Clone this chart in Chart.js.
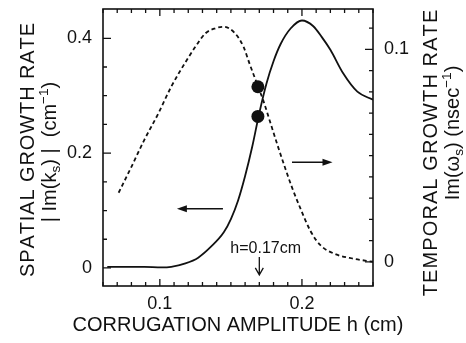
<!DOCTYPE html>
<html>
<head>
<meta charset="utf-8">
<script src="https://cdn.jsdelivr.net/npm/chart.js@4.4.1/dist/chart.umd.min.js"></script>
<style>
    html, body { margin: 0; padding: 0; background: #fff; }
</style>
</head>
<body>
<canvas id="growthChart" width="466" height="343"></canvas>
<script>
// Spatial growth rate |Im(ks)| (cm^-1), left axis, solid curve
const solidH = [0.063, 0.075, 0.089, 0.101, 0.108, 0.118, 0.127, 0.136, 0.145, 0.150, 0.155, 0.160,
    0.165, 0.170, 0.175, 0.180, 0.185, 0.192, 0.200, 0.208, 0.214, 0.220, 0.229, 0.239, 0.250];
const solidK = [0.002, 0.002, 0.002, 0.001, 0.002, 0.008, 0.018, 0.037, 0.062, 0.085, 0.117, 0.160,
    0.211, 0.270, 0.321, 0.360, 0.390, 0.417, 0.431, 0.421, 0.402, 0.380, 0.339, 0.307, 0.293];

// Temporal growth rate Im(ws) (nsec^-1), right axis, dashed curve
const dashH = [0.071, 0.080, 0.089, 0.099, 0.108, 0.119, 0.125, 0.132, 0.139, 0.145, 0.153, 0.159,
    0.163, 0.168, 0.173, 0.178, 0.183, 0.188, 0.193, 0.199, 0.206, 0.213, 0.224, 0.236, 0.250];
const dashW = [0.0325, 0.0447, 0.0573, 0.0699, 0.0824, 0.0950, 0.1012, 0.1075, 0.1099, 0.1106, 0.1075, 0.1010,
    0.0935, 0.0845, 0.0755, 0.0650, 0.0545, 0.0445, 0.0350, 0.0250, 0.0145, 0.0078, 0.0035, 0.0015, 0.0];

// diem danh dau tai h = 0.17 cm
const dotH = [0.169];
const dotK = [0.264];
const dotW = [0.0824];

// tick labels
const xTicks = [0.1, 0.2];
const yTicks = [0, 0.2, 0.4];
const y2Ticks = [0, 0.1];

// chu thich (don vi du lieu)
const markH = 0.17;
const arrowLeft = { from: 0.1444, to: 0.112, k: 0.103 };
const arrowRight = { from: 0.193, to: 0.2215, w: 0.0469 };

const ink = '#111';
const family = '"Liberation Sans", Arial, Helvetica, sans-serif';

function toPoints(xs, ys) {
    return xs.map((v, i) => ({ x: v, y: ys[i] }));
}

// ve chu co chi so tren/duoi, can giua tai cx; spacing = khoang cach them giua cac ky tu
function richText(ctx, parts, cx, baseY, size, spacing) {
    spacing = spacing || 0;
    const pieces = [];
    parts.forEach(p => {
        const fs = (p.sub || p.sup) ? size * 0.68 : size;
        const dy = p.sub ? size * 0.22 : (p.sup ? -size * 0.42 : 0);
        ctx.font = `${fs}px ${family}`;
        if (spacing) {
            for (const ch of p.t) pieces.push({ t: ch, fs, dy, w: ctx.measureText(ch).width + spacing });
        } else {
            pieces.push({ t: p.t, fs, dy, w: ctx.measureText(p.t).width });
        }
    });
    const total = pieces.reduce((s, p) => s + p.w, 0) - spacing;
    let x = cx - total / 2;
    pieces.forEach(p => {
        ctx.font = `${p.fs}px ${family}`;
        ctx.fillText(p.t, x, baseY + p.dy);
        x += p.w;
    });
}

function verticalText(ctx, parts, bx, cy, size, spacing) {
    ctx.save();
    ctx.translate(bx, cy);
    ctx.rotate(-Math.PI / 2);
    richText(ctx, parts, 0, 0, size, spacing);
    ctx.restore();
}

const decorPlugin = {
    id: 'decor',
    afterDraw(chart) {
        const { ctx, chartArea: a } = chart;
        const { x, y, y2 } = chart.scales;
        ctx.save();
        ctx.strokeStyle = ink;
        ctx.fillStyle = ink;

        // khung
        ctx.lineWidth = 1.6;
        ctx.strokeRect(a.left, a.top, a.right - a.left, a.bottom - a.top);

        // tick huong vao trong
        ctx.lineWidth = 1.3;
        ctx.beginPath();
        for (let i = 6; i <= 25; i++) {
            const px = x.getPixelForValue(i / 100);
            const len = i % 10 === 0 ? 7 : 4;
            ctx.moveTo(px, a.bottom); ctx.lineTo(px, a.bottom - len);
            ctx.moveTo(px, a.top); ctx.lineTo(px, a.top + len);
        }
        for (let i = 0; i <= 8; i++) {
            const py = y.getPixelForValue(i * 0.05);
            const len = i % 4 === 0 ? 8 : 4;
            ctx.moveTo(a.left, py); ctx.lineTo(a.left + len, py);
        }
        for (let i = 0; i <= 11; i++) {
            const py = y2.getPixelForValue(i / 100);
            const len = i % 10 === 0 ? 8 : 4;
            ctx.moveTo(a.right, py); ctx.lineTo(a.right - len, py);
        }
        ctx.stroke();

        // mui ten trai / phai
        ctx.lineWidth = 1.5;
        const ly = y.getPixelForValue(arrowLeft.k);
        const lx1 = x.getPixelForValue(arrowLeft.from), lx2 = x.getPixelForValue(arrowLeft.to);
        ctx.beginPath(); ctx.moveTo(lx1, ly); ctx.lineTo(lx2 + 6, ly); ctx.stroke();
        ctx.beginPath(); ctx.moveTo(lx2, ly); ctx.lineTo(lx2 + 10, ly - 3.5); ctx.lineTo(lx2 + 10, ly + 3.5); ctx.closePath(); ctx.fill();

        const ry = y2.getPixelForValue(arrowRight.w);
        const rx1 = x.getPixelForValue(arrowRight.from), rx2 = x.getPixelForValue(arrowRight.to);
        ctx.beginPath(); ctx.moveTo(rx1, ry); ctx.lineTo(rx2 - 6, ry); ctx.stroke();
        ctx.beginPath(); ctx.moveTo(rx2, ry); ctx.lineTo(rx2 - 10, ry - 3.5); ctx.lineTo(rx2 - 10, ry + 3.5); ctx.closePath(); ctx.fill();

        // h = 0.17 cm
        const hx = x.getPixelForValue(markH);
        const hy1 = y.getPixelForValue(0.019), hy2 = y.getPixelForValue(-0.012);
        ctx.lineWidth = 1.3;
        ctx.beginPath();
        ctx.moveTo(hx, hy1); ctx.lineTo(hx, hy2);
        ctx.moveTo(hx - 4, hy2 - 7); ctx.lineTo(hx, hy2); ctx.lineTo(hx + 4, hy2 - 7);
        ctx.stroke();
        ctx.font = `16px ${family}`;
        ctx.textAlign = 'center';
        ctx.textBaseline = 'alphabetic';
        ctx.fillText('h=0.17cm', x.getPixelForValue(0.1745), y.getPixelForValue(0.026));

        // tieu de truc
        ctx.textAlign = 'left';
        richText(ctx, [{ t: 'CORRUGATION AMPLITUDE h (cm)' }], (a.left + a.right) / 2, 331, 20);

        verticalText(ctx, [{ t: 'SPATIAL GROWTH RATE' }], 34, 150, 20, 0.9);
        verticalText(ctx, [{ t: '| Im(k' }, { t: 's', sub: true }, { t: ') |  (cm' }, { t: '\u22121', sup: true }, { t: ')' }], 56, 152, 20);

        verticalText(ctx, [{ t: 'TEMPORAL GROWTH RATE' }], 437, 153, 20, 1.1);
        verticalText(ctx, [{ t: 'Im(\u03c9' }, { t: 's', sub: true }, { t: ') (nsec' }, { t: '\u22121', sup: true }, { t: ')' }], 459, 133, 20);

        ctx.restore();
    }
};

const tickFont = { family: family, size: 18 };

new Chart(document.getElementById('growthChart'), {
    type: 'scatter',
    data: {
        datasets: [
            {
                data: toPoints(dotH, dotK),
                yAxisID: 'y',
                pointRadius: 6.5,
                pointBackgroundColor: ink,
                pointBorderWidth: 0
            },
            {
                data: toPoints(dotH, dotW),
                yAxisID: 'y2',
                pointRadius: 6.5,
                pointBackgroundColor: ink,
                pointBorderWidth: 0
            },
            {
                data: toPoints(solidH, solidK),
                yAxisID: 'y',
                showLine: true,
                borderColor: ink,
                borderWidth: 1.8,
                pointRadius: 0,
                cubicInterpolationMode: 'monotone'
            },
            {
                data: toPoints(dashH, dashW),
                yAxisID: 'y2',
                showLine: true,
                borderColor: ink,
                borderWidth: 1.8,
                borderDash: [4, 3],
                pointRadius: 0,
                cubicInterpolationMode: 'monotone'
            }
        ]
    },
    options: {
        responsive: false,
        animation: false,
        events: [],
        layout: { padding: { top: 9, left: 0, right: 0, bottom: 0 } },
        plugins: { legend: { display: false }, tooltip: { enabled: false } },
        scales: {
            x: {
                type: 'linear',
                min: 0.06,
                max: 0.25,
                grid: { display: false, drawTicks: false },
                border: { display: false },
                afterBuildTicks: s => { s.ticks = xTicks.map(v => ({ value: v })); },
                afterFit: s => { s.height = 57; s.paddingLeft = 0; s.paddingRight = 0; },
                ticks: { padding: 7, color: ink, font: tickFont, maxRotation: 0, callback: v => String(v) }
            },
            y: {
                type: 'linear',
                position: 'left',
                min: -0.0314,
                max: 0.451,
                grid: { display: false, drawTicks: false },
                border: { display: false },
                afterBuildTicks: s => { s.ticks = yTicks.map(v => ({ value: v })); },
                afterFit: s => { s.width = 103; s.paddingTop = 0; s.paddingBottom = 0; },
                ticks: { padding: 11, color: ink, font: tickFont, callback: v => String(v) }
            },
            y2: {
                type: 'linear',
                position: 'right',
                min: -0.0114,
                max: 0.119,
                grid: { display: false, drawTicks: false },
                border: { display: false },
                afterBuildTicks: s => { s.ticks = y2Ticks.map(v => ({ value: v })); },
                afterFit: s => { s.width = 93; s.paddingTop = 0; s.paddingBottom = 0; },
                ticks: { padding: 11, color: ink, font: tickFont, callback: v => String(v) }
            }
        }
    },
    plugins: [decorPlugin]
});
</script>
</body>
</html>
